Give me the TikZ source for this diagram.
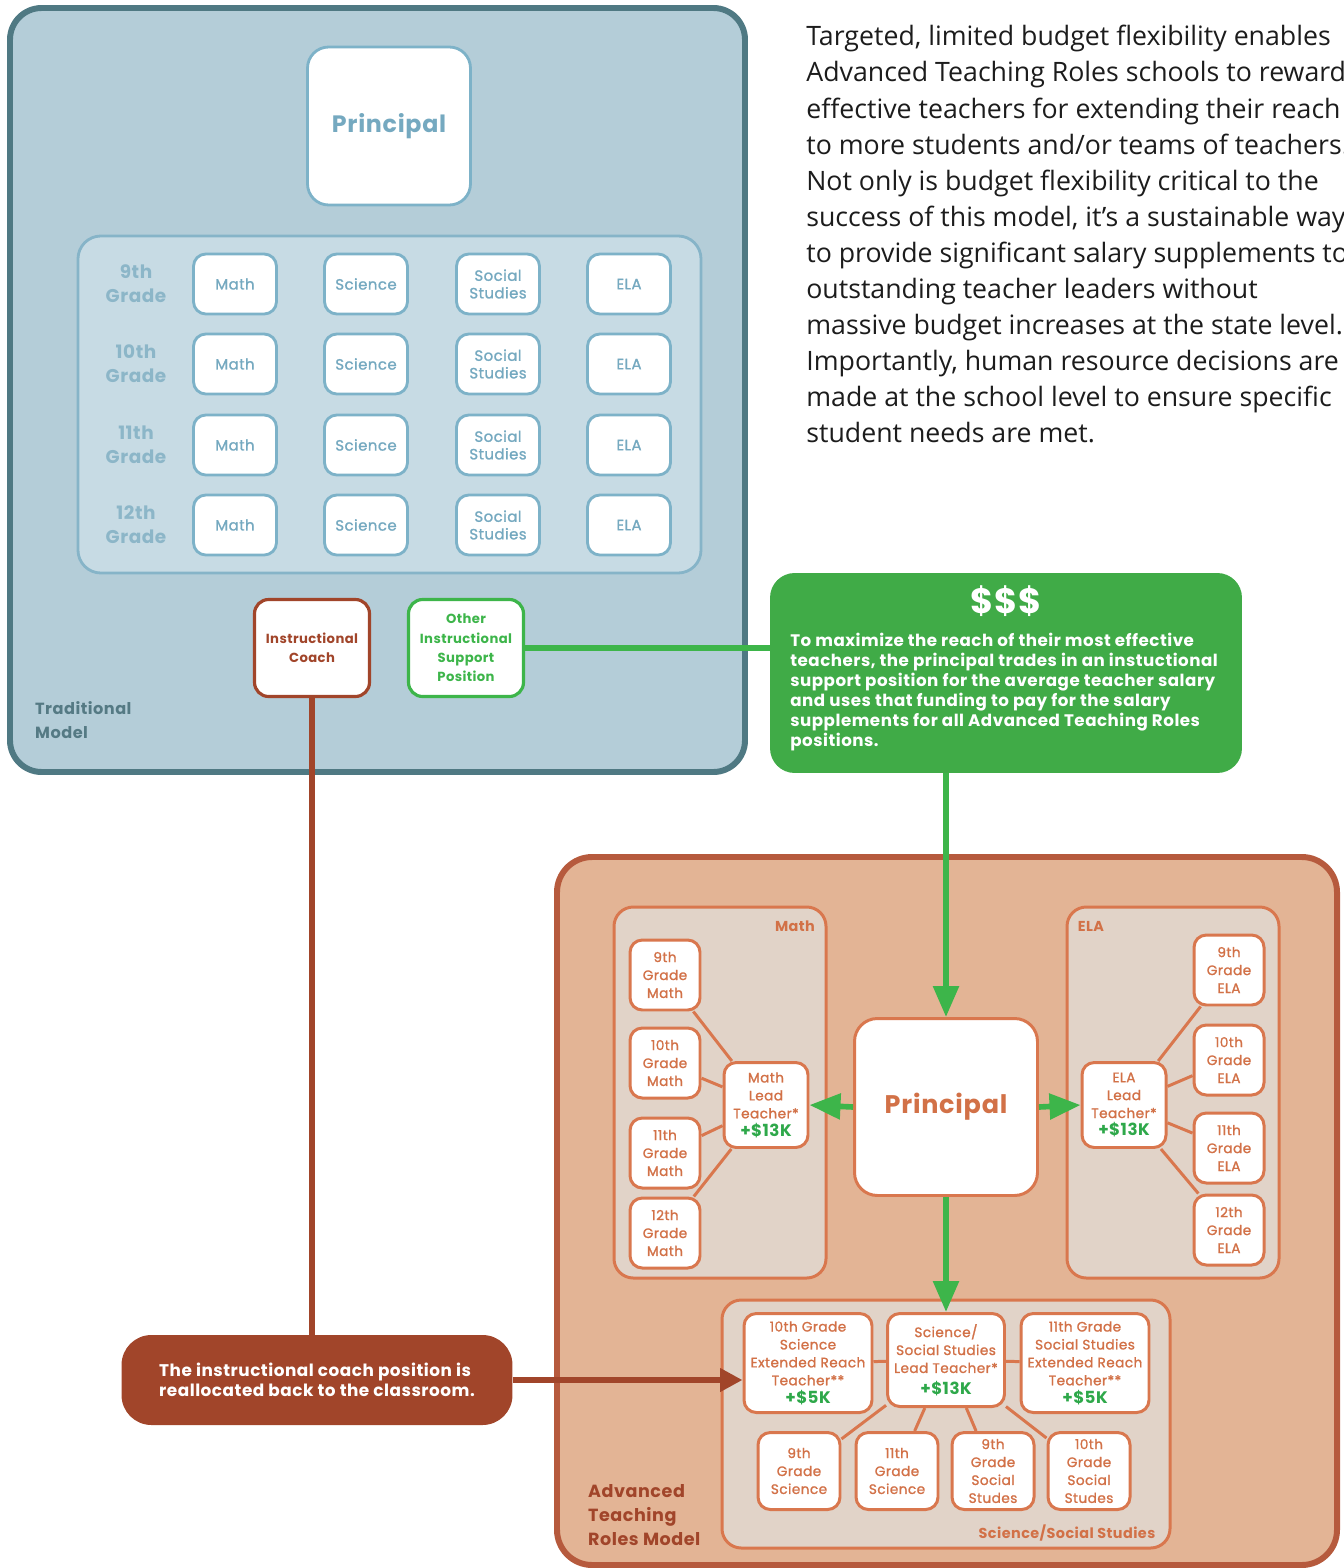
\documentclass[tikz,border=0pt]{standalone}
\usepackage{fontspec}
\setmainfont{Open Sans}
\newfontfamily\diag{Poppins}[LetterSpace=3]
\newfontfamily\diagm{Poppins}[LetterSpace=3, FakeBold=1.2]
\usetikzlibrary{arrows.meta, positioning}

\definecolor{tradfill}{HTML}{B4CDD8}
\definecolor{tradedge}{HTML}{4F7983}
\definecolor{gridfill}{HTML}{C7DBE4}
\definecolor{gridedge}{HTML}{86B4C8}
\definecolor{tealline}{HTML}{7DB2C8}
\definecolor{tealtext}{HTML}{75A9C0}
\definecolor{gradetext}{HTML}{8CB6C8}
\definecolor{tradtext}{HTML}{557A84}
\definecolor{coachbrown}{HTML}{A1452A}
\definecolor{flowgreen}{HTML}{3DB54A}
\definecolor{moneyfill}{HTML}{40AB47}
\definecolor{advfill}{HTML}{E3B495}
\definecolor{advedge}{HTML}{B65A3D}
\definecolor{groupfill}{HTML}{E1D3C8}
\definecolor{advline}{HTML}{D9774E}
\definecolor{advtext}{HTML}{D27147}
\definecolor{plusgreen}{HTML}{2EA84A}
\definecolor{bodytext}{HTML}{1C1C1C}

\begin{document}
\begin{tikzpicture}[x=0.02cm, y=-0.02cm, every node/.style={font=\diag}]
    \tikzstyle{tradcell} = [rectangle, rounded corners=7pt, draw=tealline, line width=1.6pt, fill=white, minimum width=1.66cm, minimum height=1.2cm, align=center, text=tealtext, inner sep=1pt, font=\diagm\fontsize{8.5}{10}\selectfont]
    \tikzstyle{gradelbl} = [align=center, text=gradetext, inner sep=0pt, font=\diag\bfseries\fontsize{10.5}{13.5}\selectfont]
    \tikzstyle{rolebox} = [rectangle, rounded corners=8pt, line width=1.8pt, fill=white, minimum width=2.3cm, minimum height=1.94cm, align=center, inner sep=1pt, font=\diag\bfseries\fontsize{7.5}{11}\selectfont]
    \tikzstyle{advcell} = [rectangle, rounded corners=7pt, draw=advline, line width=1.7pt, fill=white, minimum width=1.4cm, minimum height=1.4cm, align=center, text=advtext, inner sep=1pt, font=\diagm\fontsize{7.8}{10.2}\selectfont]
    \tikzstyle{groupbox} = [fill=groupfill, draw=advline, line width=1.7pt, rounded corners=11pt]
    \tikzstyle{grouplbl} = [text=advtext, inner sep=0pt, font=\diag\bfseries\fontsize{8.2}{10}\selectfont]
    \tikzstyle{link} = [draw=advline, line width=1.7pt]
    \tikzstyle{greenflow} = [draw=flowgreen, line width=3.2pt]
    \tikzstyle{greenarrow} = [greenflow, -{Triangle[length=0.62cm, width=0.5cm]}]
    \tikzstyle{brownflow} = [draw=coachbrown, line width=3.2pt]
    \newcommand{\plus}[1]{{\color{plusgreen}\diag\bfseries\fontsize{9.5}{12}\selectfont +\$#1}}

    \useasboundingbox (0,0) rectangle (1343,1568);

    % traditional model
    \draw[fill=tradfill, draw=tradedge, line width=3.4pt, rounded corners=18pt] (10,8) rectangle (745,772);
    \draw[fill=gridfill, draw=gridedge, line width=1.6pt, rounded corners=13pt] (78,236) rectangle (701,573);
    \node[tradcell, minimum width=3.26cm, minimum height=3.16cm, rounded corners=12pt, font=\diag\bfseries\fontsize{13.5}{16}\selectfont] (tprin) at (389,126) {Principal};
    \foreach \g/\y [count=\r] in {9th/284, 10th/364, 11th/445, 12th/525} {
        \node[gradelbl] (grade\r) at (136,\y) {\g\\Grade};
        \node[tradcell] (tmath\r) at (235,\y) {Math};
        \node[tradcell] (tsci\r) at (366,\y) {Science};
        \node[tradcell] (tss\r) at (498,\y) {Social\\Studies};
        \node[tradcell] (tela\r) at (629,\y) {ELA};
    }
    \node[rolebox, draw=coachbrown, text=coachbrown] (coach) at (312,648) {Instructional\\Coach};
    \node[rolebox, draw=flowgreen, text=flowgreen] (other) at (466,648) {Other\\Instructional\\Support\\Position};
    \node[anchor=west, align=left, text=tradtext, font=\diag\bfseries\fontsize{9.2}{13.5}\selectfont] (tradlbl) at (29,720) {Traditional\\Model};

    % explanation
    \node[anchor=north west, align=left, inner sep=0pt, text=bodytext, font=\rmfamily\fontsize{15.2}{20.55}\selectfont] (note) at (806,25) {Targeted, limited budget flexibility enables\\Advanced Teaching Roles schools to reward\\effective teachers for extending their reach\\to more students and/or teams of teachers.\\Not only is budget flexibility critical to the\\success of this model, it’s a sustainable way\\to provide significant salary supplements to\\outstanding teacher leaders without\\massive budget increases at the state level.\\Importantly, human resource decisions are\\made at the school level to ensure specific\\student needs are met.};

    % funding
    \node[rectangle, rounded corners=14pt, fill=moneyfill, minimum width=9.44cm, minimum height=4cm] (money) at (1006,673) {};
    \node[below=4pt of money.north, text=white, font=\diag\bfseries\fontsize{20}{24}\selectfont] (cash) {\$\$\$};
    \node[anchor=north west, align=left, inner sep=0pt, text=white, font=\diag\bfseries\fontsize{9.5}{11.4}\selectfont] (moneynote) at (790,633) {To maximize the reach of their most effective\\teachers, the principal trades in an instuctional\\support position for the average teacher salary\\and uses that funding to pay for the salary\\supplements for all Advanced Teaching Roles\\positions.};

    % advanced teaching roles model
    \draw[fill=advfill, draw=advedge, line width=3.4pt, rounded corners=20pt] (557,857) rectangle (1337,1565);
    \draw[groupbox] (614,907) rectangle (826,1278);
    \draw[groupbox] (1067,907) rectangle (1279,1278);
    \draw[groupbox] (722,1300) rectangle (1170,1548);
    \node[grouplbl] (mathlbl) at (795,926) {Math};
    \node[grouplbl] (elalbl) at (1091,926) {ELA};
    \node[grouplbl] (sslbl) at (1067,1533) {Science/Social Studies};
    \node[anchor=west, align=left, text=coachbrown, font=\diag\bfseries\fontsize{10}{13.7}\selectfont] (advlbl) at (582,1515) {Advanced\\Teaching\\Roles Model};

    \node[advcell, minimum width=3.66cm, minimum height=3.54cm, rounded corners=13pt, font=\diag\bfseries\fontsize{14.5}{18}\selectfont] (prin) at (946,1107) {Principal};
    \node[advcell, minimum width=1.68cm, minimum height=1.7cm] (mlead) at (766,1105) {Math\\Lead\\Teacher*\\\plus{13K}};
    \node[advcell, minimum width=1.68cm, minimum height=1.7cm] (elead) at (1124,1105) {ELA\\Lead\\Teacher*\\\plus{13K}};
    \foreach \g/\y [count=\r] in {9th/975, 10th/1063, 11th/1153, 12th/1233} {
        \node[advcell] (mg\r) at (665,\y) {\g\\Grade\\Math};
        \draw[link] (mg\r) -- (mlead);
    }
    \foreach \g/\y [count=\r] in {9th/970, 10th/1060, 11th/1148, 12th/1230} {
        \node[advcell] (eg\r) at (1229,\y) {\g\\Grade\\ELA};
        \draw[link] (eg\r) -- (elead);
    }

    \node[advcell, minimum width=2.34cm, minimum height=1.86cm] (slead) at (946,1360) {Science/\\Social Studies\\Lead Teacher*\\[2pt]\plus{13K}};
    \node[advcell, minimum width=2.56cm, minimum height=1.98cm] (sci10) at (808,1363) {10th Grade\\Science\\Extended Reach\\Teacher**\\\plus{5K}};
    \node[advcell, minimum width=2.56cm, minimum height=1.98cm] (ss11) at (1085,1363) {11th Grade\\Social Studies\\Extended Reach\\Teacher**\\\plus{5K}};
    \draw[link] (slead) -- (sci10);
    \draw[link] (slead) -- (ss11);
    \foreach \nm/\x/\txt in {sci9/799/{9th\\Grade\\Science}, sci11/897/{11th\\Grade\\Science}, ss9/993/{9th\\Grade\\Social\\Studes}, ss10/1089/{10th\\Grade\\Social\\Studes}} {
        \node[advcell, minimum width=1.64cm, minimum height=1.54cm] (\nm) at (\x,1471) {\txt};
        \draw[link] (slead) -- (\nm);
    }

    % reallocation
    \node[rectangle, rounded corners=17pt, fill=coachbrown, minimum width=7.82cm, minimum height=1.8cm, align=left, text=white, font=\diag\bfseries\fontsize{9.6}{11.4}\selectfont] (realloc) at (317,1380) {The instructional coach position is\\reallocated back to the classroom.};

    % flows
    \draw[greenflow] (other.east) -- (other.east -| money.west);
    \draw[greenarrow] (money.south -| prin.north) -- (prin.north);
    \draw[greenarrow] (prin.west) -- (mlead.east);
    \draw[greenarrow] (prin.east) -- (elead.west);
    \draw[greenarrow] (prin.south) -- (slead.north);
    \draw[brownflow] (coach.south) -- (coach.south |- realloc.north);
    \draw[brownflow, -{Triangle[length=0.45cm, width=0.45cm]}] (realloc.east) -- (realloc.east -| sci10.west);
\end{tikzpicture}
\end{document}
